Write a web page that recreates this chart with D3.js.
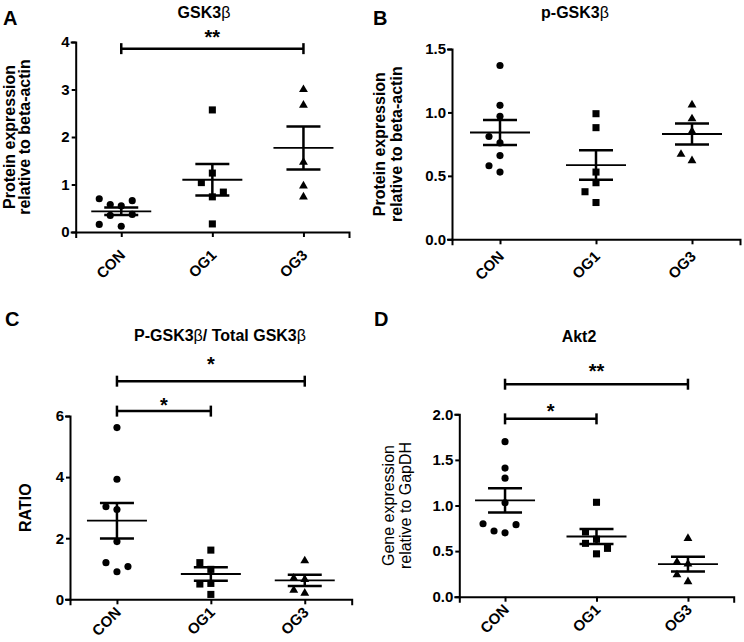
<!DOCTYPE html>
<html><head><meta charset="utf-8">
<script src="https://cdn.jsdelivr.net/npm/d3@7"></script>
<style>
body{margin:0;background:#fff}
svg{display:block}
text{font-family:"Liberation Sans",Arial,sans-serif;fill:#000}
</style>
</head><body>
<svg id="chart" width="744" height="642"></svg>
<script>
// ---------- data ----------
const categories = ["CON", "OG1", "OG3"];

// Panel A: GSK3β
const gskCON = [0.55, 0.58, 0.66, 0.70, 0.37, 0.35, 0.12, 0.16];
const gskOG1 = [2.57, 1.24, 1.04, 0.74, 0.84, 0.17];
const gskOG3 = [3.00, 2.67, 1.47, 0.97, 0.74];
const ticksA = [0, 1, 2, 3, 4];
const sigA = [{from: "CON", to: "OG3", level: 3.86, labelLevel: 4.21, label: "**"}];

// Panel B: p-GSK3β
const pgskCON = [1.37, 0.97, 1.056, 0.76, 0.81, 0.66, 0.53, 0.58];
const pgskOG1 = [0.99, 0.88, 0.53, 0.446, 0.375, 0.29];
const pgskOG3 = [1.06, 0.85, 0.95, 0.62, 0.67];
const ticksB = [0, 0.5, 1.0, 1.5];
const sigB = [];

// Panel C: P-GSK3β / Total GSK3β
const ratioCON = [5.62, 3.93, 2.94, 3.03, 1.89, 0.90, 1.20, 1.07];
const ratioOG1 = [1.61, 0.98, 1.20, 0.52, 0.50, 0.16];
const ratioOG3 = [1.26, 0.65, 0.69, 0.20, 0.30];
const ticksC = [0, 2, 4, 6];
const sigC = [
  {from: "CON", to: "OG3", level: 7.14, labelLevel: 7.86, label: "*"},
  {from: "CON", to: "OG1", level: 6.16, labelLevel: 6.52, label: "*"}
];

// Panel D: Akt2
const akt2CON = [1.70, 1.30, 1.41, 1.03, 0.70, 0.72, 0.79, 0.80];
const akt2OG1 = [1.035, 0.63, 0.71, 0.585, 0.53, 0.47];
const akt2OG3 = [0.64, 0.36, 0.38, 0.165, 0.24];
const ticksD = [0, 0.5, 1.0, 1.5, 2.0];
const sigD = [
  {from: "CON", to: "OG3", level: 2.33, labelLevel: 2.52, label: "**"},
  {from: "CON", to: "OG1", level: 1.95, labelLevel: 2.09, label: "*"}
];

// ---------- layout ----------
const panels = [
  {letter: "A", lx: 3, ly: 25, title: ["GSK3", "β"], tx: 204, ty: 18,
   x0: 75.7, x1: 349, y0: 232, y1: 42, domain: [0, 4], ticks: ticksA, fmt: d3.format("d"), xlabDy: 24,
   ylab: ["Protein expression", "relative to beta-actin"], ylabX: [14.5, 30], ylabBold: true,
   groups: [gskCON, gskOG1, gskOG3], sig: sigA},
  {letter: "B", lx: 373, ly: 25, title: ["p-GSK3", "β"], tx: 575, ty: 18,
   x0: 452, x1: 740, y0: 239.3, y1: 49, domain: [0, 1.5], ticks: ticksB, fmt: d3.format(".1f"), xlabDy: 18,
   ylab: ["Protein expression", "relative to beta-actin"], ylabX: [385, 401.5], ylabBold: true,
   groups: [pgskCON, pgskOG1, pgskOG3], sig: sigB},
  {letter: "C", lx: 5, ly: 326, title: ["P-GSK3", "β", "/ Total GSK3", "β"], tx: 220, ty: 341,
   x0: 70, x1: 351.7, y0: 599.3, y1: 416, domain: [0, 6], ticks: ticksC, fmt: d3.format("d"), xlabDy: 14,
   ylab: ["RATIO"], ylabX: [30.5], ylabBold: true,
   groups: [ratioCON, ratioOG1, ratioOG3], sig: sigC},
  {letter: "D", lx: 374, ly: 326, title: ["Akt2"], tx: 579, ty: 342,
   x0: 459.3, x1: 733.7, y0: 596.7, y1: 414.3, domain: [0, 2], ticks: ticksD, fmt: d3.format(".1f"), xlabDy: 14,
   ylab: ["Gene expression", "relative to GapDH"], ylabX: [394, 411], ylabBold: false,
   groups: [akt2CON, akt2OG1, akt2OG3], sig: sigD}
];

const symbols = [d3.symbolCircle, d3.symbolSquare, d3.symbolTriangle];
const symbolSizes = [40, 50, 34];
const laneW = 11, collide = 10;

const svg = d3.select("#chart");

function assignLanes(vals, y) {
  const placed = [];
  const order = [0, -1, 1, -2, 2, -3, 3];
  return vals.map(v => {
    const py = y(v);
    for (const l of order) {
      if (!placed.some(q => q.l === l && Math.abs(q.py - py) < collide)) {
        placed.push({l, py});
        return l;
      }
    }
    return 0;
  });
}

panels.forEach(p => {
  const g = svg.append("g");
  const x = d3.scalePoint().domain(categories).range([p.x0, p.x1]).padding(0.5);
  const y = d3.scaleLinear().domain(p.domain).range([p.y0, p.y1]);

  g.append("text").attr("x", p.lx).attr("y", p.ly)
    .attr("font-size", 20).attr("font-weight", "bold").text(p.letter);

  const t = g.append("text").attr("x", p.tx).attr("y", p.ty).attr("text-anchor", "middle")
    .attr("font-size", 16).attr("font-weight", "bold");
  p.title.forEach(s => {
    t.append("tspan").attr("font-weight", s === "β" ? "normal" : "bold").text(s);
  });

  p.ylab.forEach((s, i) => {
    g.append("text")
      .attr("transform", `translate(${p.ylabX[i]},${(p.y0 + p.y1) / 2}) rotate(-90)`)
      .attr("text-anchor", "middle").attr("font-size", 16)
      .attr("font-weight", p.ylabBold ? "bold" : "normal").text(s);
  });

  const ya = g.append("g").attr("transform", `translate(${p.x0},0)`)
    .call(d3.axisLeft(y).tickValues(p.ticks).tickFormat(p.fmt).tickSizeOuter(0).tickSize(4).tickPadding(2));
  const xa = g.append("g").attr("transform", `translate(0,${p.y0})`)
    .call(d3.axisBottom(x).tickSizeOuter(0).tickSize(5));
  [ya, xa].forEach(a => {
    a.select(".domain").attr("stroke", "#000").attr("stroke-width", 2).attr("stroke-linecap", "square");
    a.selectAll(".tick line").attr("stroke", "#000").attr("stroke-width", 2);
  });
  ya.selectAll(".tick text").attr("font-size", 15).attr("font-weight", "bold")
    .attr("font-family", "Liberation Sans, Arial, sans-serif").attr("fill", "#000");
  xa.selectAll(".tick text").remove();
  categories.forEach(c => {
    g.append("text")
      .attr("transform", `translate(${x(c) + 5},${p.y0 + p.xlabDy}) rotate(-45)`)
      .attr("text-anchor", "end").attr("font-size", 15).attr("font-weight", "bold").text(c);
  });

  p.groups.forEach((vals, gi) => {
    const cx = x(categories[gi]);
    const lanes = assignLanes(vals, y);
    const sym = d3.symbol().type(symbols[gi]).size(symbolSizes[gi]);
    g.append("g").selectAll("path").data(vals).join("path")
      .attr("d", sym)
      .attr("transform", (v, i) => `translate(${cx + lanes[i] * laneW},${y(v)})`)
      .attr("fill", "#000");
    const m = d3.mean(vals);
    const sem = d3.deviation(vals) / Math.sqrt(vals.length);
    g.append("line").attr("x1", cx - 30).attr("x2", cx + 30)
      .attr("y1", y(m)).attr("y2", y(m)).attr("stroke", "#000").attr("stroke-width", 1.8);
    g.append("line").attr("x1", cx).attr("x2", cx)
      .attr("y1", y(m + sem)).attr("y2", y(m - sem)).attr("stroke", "#000").attr("stroke-width", 2.5);
    [m + sem, m - sem].forEach(v => {
      g.append("line").attr("x1", cx - 17).attr("x2", cx + 17)
        .attr("y1", y(v)).attr("y2", y(v)).attr("stroke", "#000").attr("stroke-width", 2.5);
    });
  });

  p.sig.forEach(s => {
    const xa1 = x(s.from), xb1 = x(s.to), yy = y(s.level);
    const bg = g.append("g").attr("stroke", "#000").attr("stroke-width", 2.5);
    bg.append("line").attr("x1", xa1).attr("x2", xb1).attr("y1", yy).attr("y2", yy);
    [xa1, xb1].forEach(xx => bg.append("line").attr("x1", xx).attr("x2", xx).attr("y1", yy - 5.5).attr("y2", yy + 5.5));
    g.append("text").attr("x", (xa1 + xb1) / 2).attr("y", y(s.labelLevel) + 11.5)
      .attr("text-anchor", "middle").attr("font-size", 20).attr("font-weight", "bold").text(s.label);
  });
});
</script>
</body></html>
